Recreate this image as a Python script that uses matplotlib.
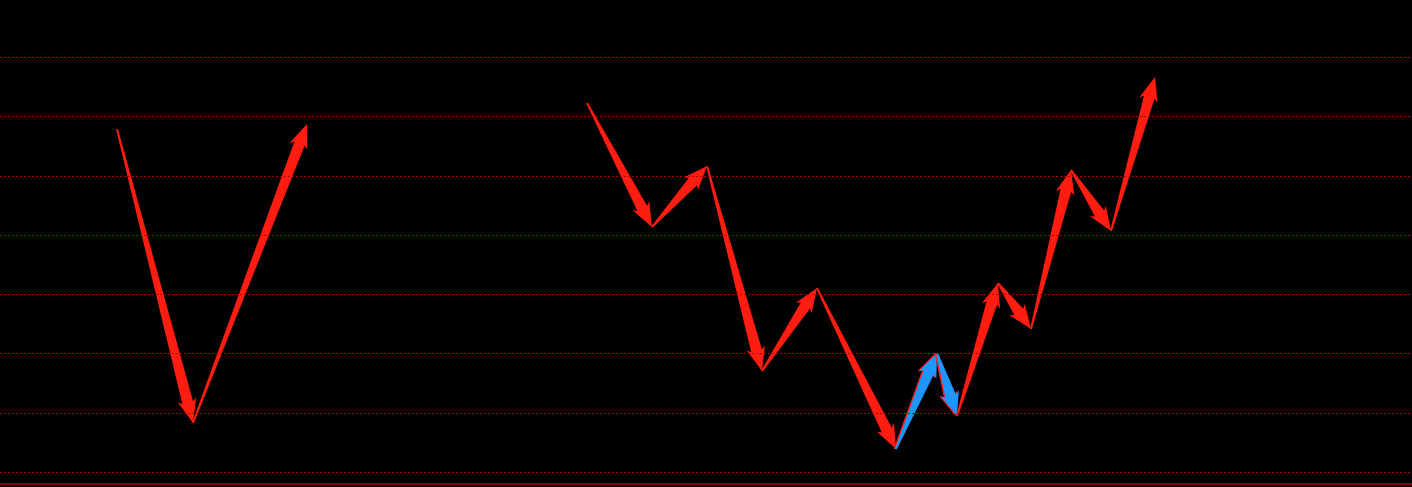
import matplotlib
matplotlib.use('Agg')
import matplotlib.pyplot as plt
import numpy as np
from matplotlib.patches import Polygon

# ---- data (time index, price level) ----
left_x = [11.7, 19.3, 30.7]
left_y = [6.785, 1.826, 6.869]
left_colors = ['red', 'red']

right_x = [58.7, 65.2, 70.7, 76.2, 81.7, 89.6, 93.7, 95.7, 99.8, 103.1, 107.1, 111.1, 115.5]
right_y = [7.224, 5.132, 6.161, 2.703, 4.103, 1.388, 3.007, 1.945, 4.188, 3.412, 6.094, 5.065, 7.662]
right_colors = ['red', 'red', 'red', 'red', 'red', 'blue', 'blue', 'red', 'red', 'red', 'red', 'red']

grid_levels = [1, 2, 3, 4, 5, 6, 7, 8]
base_level = 0.798

RED = '#ff1c10'
BLUE = '#1e96ff'

fig = plt.figure(figsize=(14.12, 4.87), dpi=100, facecolor='black')
ax = fig.add_axes([0, 0, 1, 1])
ax.set_facecolor('black')
ax.set_xlim(0, 141.2)
ax.set_ylim(0.747, 8.961)
for s in ax.spines.values():
    s.set_visible(False)
ax.set_xticks([])
ax.set_yticks([])

for lv in grid_levels:
    ax.axhline(lv, color='#b40000', lw=0.72, linestyle=(0, (1.5, 2.5)),
               antialiased=False)
ax.axhline(base_level, color='#a00000', lw=1.2)


def arrow(p0, p1, color, dx=0.0, dy=0.0):
    T = ax.transData
    s = T.transform(p0) + np.array([dx, dy])
    t = T.transform(p1) + np.array([dx, dy])
    d = t - s
    L = np.hypot(*d)
    u = d / L
    n = np.array([-u[1], u[0]])
    H, W, w, barb = 21.0, 19.0, 11.0, 3.0
    b = t - u * H
    pts = [s + n * 0.9, b + n * w / 2, b - u * barb + n * W / 2, t,
           b - u * barb - n * W / 2, b - n * w / 2, s - n * 0.9]
    data = T.inverted().transform(np.array(pts))
    ax.add_patch(Polygon(data, closed=True, facecolor=color, edgecolor='none'))


def draw_series(xs, ys, cols):
    for i, c in enumerate(cols):
        p0 = (xs[i], ys[i])
        p1 = (xs[i + 1], ys[i + 1])
        if c == 'blue':
            arrow(p0, p1, RED, dx=-1.5)
            arrow(p0, p1, BLUE)
        else:
            arrow(p0, p1, RED)


draw_series(left_x, left_y, left_colors)
draw_series(right_x, right_y, right_colors)

fig.savefig('out.png', dpi=100, facecolor='black')
